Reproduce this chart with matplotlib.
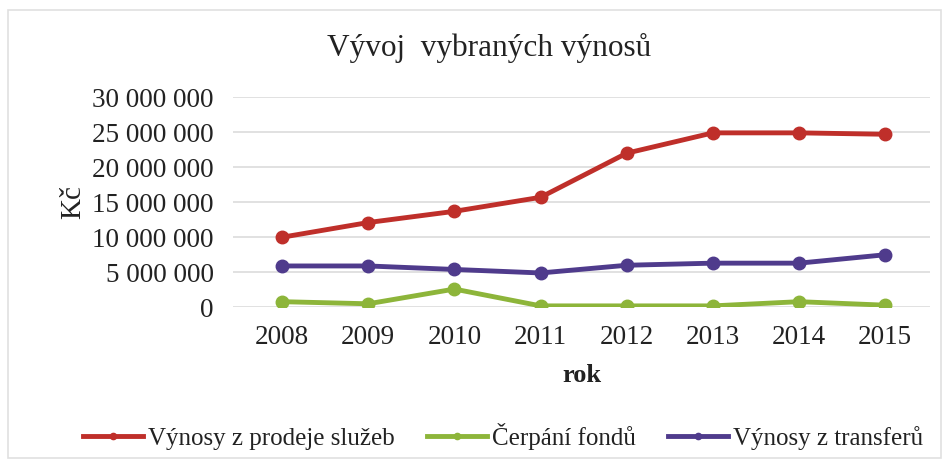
import numpy as np
import matplotlib.pyplot as plt
from matplotlib.patches import Rectangle
from matplotlib.ticker import FuncFormatter

years = ['2008', '2009', '2010', '2011', '2012', '2013', '2014', '2015']
prodej = [10.0e6, 12.1e6, 13.7e6, 15.7e6, 22.0e6, 24.9e6, 24.9e6, 24.7e6]
fondy = [0.8e6, 0.5e6, 2.6e6, 0.2e6, 0.2e6, 0.2e6, 0.8e6, 0.3e6]
transfery = [5.9e6, 5.9e6, 5.4e6, 4.9e6, 6.0e6, 6.3e6, 6.3e6, 7.5e6]
labels = ['Výnosy z prodeje služeb', 'Čerpání fondů', 'Výnosy z transferů']
colors = ['#bf2f2a', '#8db53a', '#4f3b8c']

plt.rcParams['font.family'] = ['Liberation Serif', 'DejaVu Serif']

fig = plt.figure(figsize=(9.49, 4.67), dpi=100)
ax = fig.add_axes([0.2455, 0.342, 0.7345, 0.45])

x = np.arange(len(years))
for vals, lab, c in zip([prodej, fondy, transfery], labels, colors):
    ax.plot(x, vals, color=c, lw=3.5, marker='o', markersize=9, label=lab)

ax.set_xlim(-0.57, len(years) - 0.48)
ax.set_ylim(0, 30e6)
ax.set_yticks(np.arange(0, 30e6 + 1, 5e6))
ax.yaxis.set_major_formatter(FuncFormatter(lambda v, p: '{:,.0f}'.format(v).replace(',', ' ')))
ax.set_xticks(x)
ax.set_xticklabels(years)
ax.tick_params(axis='both', length=0, labelsize=19.5, colors='#222222')
ax.tick_params(axis='x', pad=13)
ax.tick_params(axis='y', pad=14)
ax.grid(axis='y', color='#dcdcdc', lw=1.2)
ax.set_axisbelow(True)
for s in ax.spines.values():
    s.set_visible(False)

ax.set_xlabel('rok', fontsize=19, fontweight='bold', color='#222222', labelpad=10)
ax.set_ylabel('Kč', fontsize=21, color='#222222', labelpad=4)
fig.text(0.515, 0.898, 'Vývoj  vybraných výnosů', ha='center', va='center', fontsize=22.5, color='#222222')

fig.legend(loc='center', bbox_to_anchor=(0.53, 0.065), ncol=3, frameon=False,
           fontsize=18, handlelength=2.4, handletextpad=0.2, columnspacing=1.3,
           markerscale=0.5, labelcolor='#222222')

fig.patches.append(Rectangle((0.008, 0.02), 0.984, 0.958, transform=fig.transFigure,
                             fill=False, edgecolor='#e0e0e0', lw=1.2))

fig.savefig('out.png', dpi=100)
